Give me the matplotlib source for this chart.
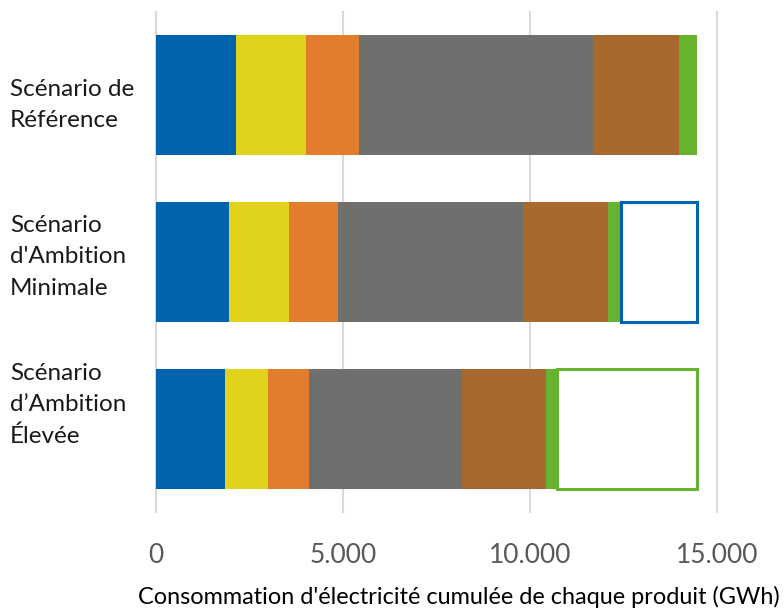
import numpy as np
import matplotlib.pyplot as plt

plt.rcParams['font.family'] = ['Lato', 'DejaVu Sans']

scenarios = ["Scénario de\nRéférence",
             "Scénario\nd'Ambition\nMinimale",
             "Scénario\nd’Ambition\nÉlevée"]
# segment lengths (GWh)
blue = [2137, 1958, 1851]
yellow = [1886, 1602, 1157]
orange = [1407, 1301, 1078]
grey = [6258, 4958, 4103]
brown = [2316, 2270, 2254]
green = [481, 358, 284]
colors = ["#0063AE", "#E1D21B", "#E27D2D", "#6F6F6D", "#A8692F", "#67B22F"]
segments = [blue, yellow, orange, grey, brown, green]

y = np.arange(len(scenarios))
fig = plt.figure(figsize=(7.84, 6.10), dpi=100)
ax = fig.add_axes([0.1986, 0.1607, 0.7156, 0.8197])

left = np.zeros(len(scenarios))
for vals, c in zip(segments, colors):
    ax.barh(y, vals, left=left, height=0.72, color=c, edgecolor="none", zorder=2)
    left = left + np.array(vals)

# gap to the reference total, drawn as an empty box
ref_total = left[0]
box_colors = ["#0063AE", "#67B22F"]
for i, ec in zip([1, 2], box_colors):
    ax.barh(y[i], ref_total - left[i], left=left[i], height=0.72,
            facecolor="white", edgecolor=ec, linewidth=2.2, zorder=3)

ax.set_xlim(0, 15000)
ax.set_ylim(2.5, -0.5)
ax.set_xticks([0, 5000, 10000, 15000])
ax.set_xticklabels(["0", "5.000", "10.000", "15.000"], fontsize=19, color="#595959")
ax.set_yticks(y)
ax.set_yticklabels([])
ax.tick_params(axis="y", length=0)
ax.tick_params(axis="x", length=0, pad=22)

# category labels sit as free text boxes, not exactly centred on the bars
label_shift = [0.06, -0.03, -0.14]
for yi, txt, dy in zip(y, scenarios, label_shift):
    ax.text(-0.2597, yi + dy, txt, transform=ax.get_yaxis_transform(),
            ha="left", va="center", fontsize=17.5, linespacing=1.6, color="#1a1a1a")

ax.xaxis.grid(True, color="#D9D9D9", linewidth=1.5, zorder=0)
for gl in ax.get_xgridlines():
    gl.set_clip_on(False)
for s in ax.spines.values():
    s.set_visible(False)
ax.set_xlabel("Consommation d'électricité cumulée de chaque produit (GWh)",
              fontsize=16.9, va="center")
ax.xaxis.set_label_coords(0.54, -0.17)

fig.savefig("out.png", dpi=100)
